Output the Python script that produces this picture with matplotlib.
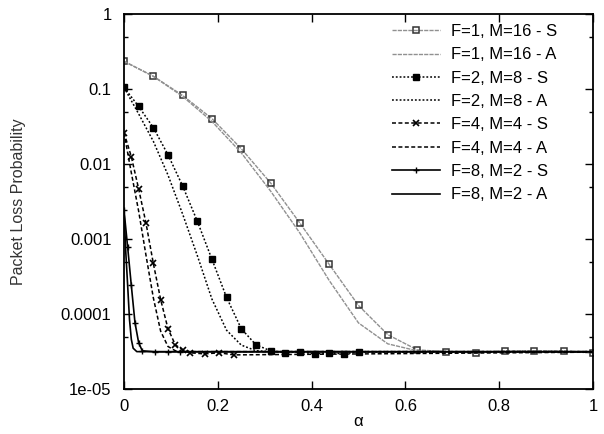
import matplotlib
matplotlib.use('Agg')
import matplotlib.pyplot as plt
from matplotlib.ticker import FixedLocator, FixedFormatter, NullFormatter

plt.rcParams['font.family'] = ['Liberation Sans', 'DejaVu Sans']

# ---------------- data ----------------
alpha_f1 = [0, 0.0625, 0.125, 0.1875, 0.25, 0.3125, 0.375, 0.4375, 0.5,
            0.5625, 0.625, 0.6875, 0.75, 0.8125, 0.875, 0.9375, 1.0]
plp_f1_s = [0.234, 0.148, 0.0821, 0.0403, 0.0160, 0.0056, 0.00163, 0.000459,
            0.00013, 5.3e-5, 3.33e-5, 3.13e-5, 3.04e-5, 3.23e-5, 3.23e-5,
            3.23e-5, 3.0e-5]
plp_f1_a = [0.234, 0.1476, 0.0797, 0.0369, 0.0141, 0.00436, 0.0012, 0.00028,
            7.6e-5, 4.0e-5, 3.23e-5, 3.15e-5, 3.15e-5, 3.15e-5, 3.15e-5,
            3.15e-5, 3.15e-5]

alpha_f2 = [0, 0.03125, 0.0625, 0.09375, 0.125, 0.15625, 0.1875, 0.21875,
            0.25, 0.28125, 0.3125, 0.34375, 0.375, 0.40625, 0.4375, 0.46875,
            0.5, 1.0]
plp_f2_s = [0.105, 0.0585, 0.0306, 0.01328, 0.0051, 0.00173, 0.000536,
            0.000166, 6.37e-5, 3.89e-5, 3.23e-5, 3.04e-5, 3.13e-5, 2.94e-5,
            3.04e-5, 2.94e-5, 3.13e-5, 3.13e-5]
plp_f2_a = [0.105, 0.0466, 0.0201, 0.00713, 0.00215, 0.000603, 0.000158,
            6.07e-5, 3.85e-5, 3.24e-5, 3.16e-5, 3.15e-5, 3.15e-5, 3.15e-5,
            3.15e-5, 3.15e-5, 3.15e-5, 3.15e-5]

alpha_f4 = [0, 0.015625, 0.03125, 0.046875, 0.0625, 0.078125, 0.09375,
            0.109375, 0.125, 0.140625, 0.171875, 0.203125, 0.234375, 1.0]
plp_f4_s = [0.0262, 0.0125, 0.00465, 0.00163, 0.000474, 0.000156, 6.37e-5,
            3.89e-5, 3.33e-5, 3.04e-5, 2.94e-5, 3.04e-5, 2.85e-5, 3.1e-5]
plp_f4_a = [0.0262, 0.00763, 0.00235, 0.000607, 0.000165, 5.9e-5, 3.69e-5,
            3.24e-5, 3.16e-5, 3.15e-5, 3.15e-5, 3.15e-5, 3.15e-5, 3.15e-5]

alpha_f8_s = [0, 0.0078, 0.0156, 0.0234, 0.03125, 0.039, 0.066, 0.093, 0.12, 1.0]
plp_f8_s = [0.00243, 0.000776, 0.00024, 7.67e-5, 4.14e-5, 3.23e-5, 3.13e-5,
            3.13e-5, 3.13e-5, 3.13e-5]
alpha_f8_a = [0, 0.0039, 0.0078, 0.0117, 0.0156, 0.0195, 0.0273, 1.0]
plp_f8_a = [0.00243, 0.00065, 0.00024, 8.5e-5, 4.6e-5, 3.5e-5, 3.15e-5, 3.15e-5]

labels = ["F=1, M=16 - S", "F=1, M=16 - A", "F=2, M=8 - S", "F=2, M=8 - A",
          "F=4, M=4 - S", "F=4, M=4 - A", "F=8, M=2 - S", "F=8, M=2 - A"]

y_ticks = [1e-5, 1e-4, 1e-3, 1e-2, 1e-1, 1]
y_ticklabels = ["1e-05", "0.0001", "0.001", "0.01", "0.1", "1"]
y_minor = [5e-5, 5e-4, 5e-3, 5e-2, 5e-1]
x_ticks = [0, 0.2, 0.4, 0.6, 0.8, 1]
x_ticklabels = ["0", "0.2", "0.4", "0.6", "0.8", "1"]

# ---------------- figure ----------------
fig = plt.figure(figsize=(6.04, 4.34), dpi=100)
ax = fig.add_axes([124 / 604, 1 - 389 / 434, 469 / 604, 375 / 434])

gray = '#909090'
dotted = (0, (1.2, 1.3))
dashed = (0, (2.6, 1.6))

ax.plot(alpha_f1, plp_f1_s, color=gray, lw=1.0, ls=(0, (3, 0.8)),
        marker='s', ms=5, mfc='none', mec='#333333', mew=1.1, label=labels[0])
ax.plot(alpha_f1, plp_f1_a, color=gray, lw=1.0, ls=(0, (3, 0.8)), label=labels[1])
ax.plot(alpha_f2, plp_f2_s, color='black', lw=1.1, ls=dotted,
        marker='s', ms=4, mfc='black', mec='black', markevery=list(range(17)),
        label=labels[2])
ax.plot(alpha_f2, plp_f2_a, color='black', lw=1.1, ls=dotted, label=labels[3])
ax.plot(alpha_f4, plp_f4_s, color='black', lw=1.1, ls=dashed,
        marker='x', ms=4.5, mew=1.2, mec='black', markevery=list(range(13)),
        label=labels[4])
ax.plot(alpha_f4, plp_f4_a, color='black', lw=1.1, ls=dashed, label=labels[5])
ax.plot(alpha_f8_s, plp_f8_s, color='black', lw=1.2, ls='-',
        marker='+', ms=4.5, mew=1.0, mec='black', markevery=list(range(9)),
        label=labels[6])
ax.plot(alpha_f8_a, plp_f8_a, color='black', lw=1.2, ls='-', label=labels[7])

ax.set_yscale('log')
ax.set_xlim(0, 1)
ax.set_ylim(1e-5, 1)

ax.yaxis.set_major_locator(FixedLocator(y_ticks))
ax.yaxis.set_major_formatter(FixedFormatter(y_ticklabels))
ax.yaxis.set_minor_locator(FixedLocator(y_minor))
ax.yaxis.set_minor_formatter(NullFormatter())
ax.xaxis.set_major_locator(FixedLocator(x_ticks))
ax.xaxis.set_major_formatter(FixedFormatter(x_ticklabels))

ax.tick_params(which='both', direction='in', top=True, right=True,
               colors='black', labelsize=12, width=1.0)
ax.tick_params(which='major', length=6)
ax.tick_params(which='minor', length=3)
ax.tick_params(axis='y', which='major', pad=9)
ax.tick_params(axis='x', which='major', pad=7)
for s in ax.spines.values():
    s.set_linewidth(1.3)
    s.set_color('black')

ax.set_ylabel("Packet Loss Probability", fontsize=11.5, color='#333333')
ax.yaxis.set_label_coords((26 - 124) / 469, 0.5)
ax.set_xlabel("α", fontsize=12, labelpad=0)

leg = ax.legend(loc='upper left', bbox_to_anchor=(392 / 604, 1 - 24 / 434),
                bbox_transform=fig.transFigure, frameon=False, fontsize=12,
                handlelength=2.9, handletextpad=0.65, labelspacing=0.5,
                borderpad=0, borderaxespad=0, numpoints=1)

fig.savefig('out.png', dpi=100)
